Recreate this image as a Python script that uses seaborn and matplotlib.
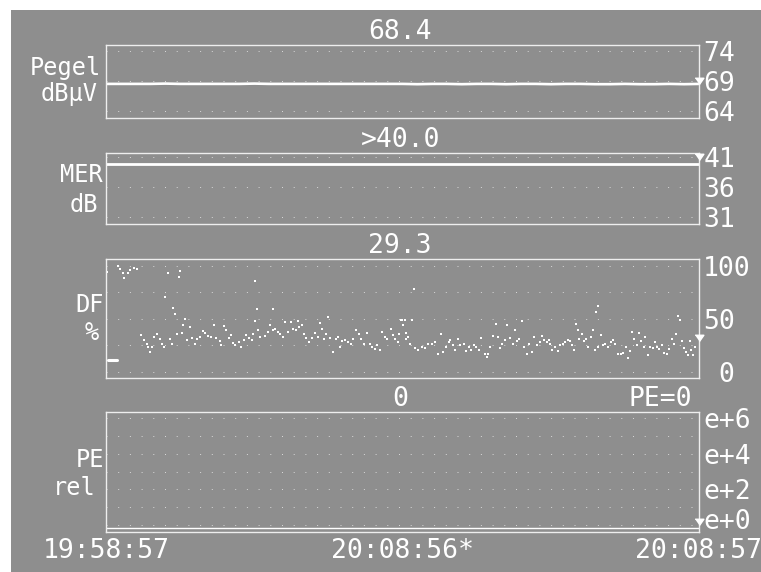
import matplotlib
matplotlib.use("Agg")
import matplotlib.pyplot as plt
import seaborn as sns
from matplotlib.patches import Rectangle

time_ticks = [0, 300, 600]
time_labels = ["19:58:57", "20:08:56*", "20:08:57"]

pegel_t = [0, 15, 30, 45, 60, 75, 90, 105, 120, 135, 150, 165, 180, 195, 210,
           225, 240, 255, 270, 285, 300, 315, 330, 345, 360, 375, 390, 405,
           420, 435, 450, 465, 480, 495, 510, 525, 540, 555, 570, 585, 600]
pegel = [68.5, 68.5, 68.5, 68.5, 68.55, 68.5, 68.5, 68.5, 68.5, 68.5, 68.55,
         68.5, 68.5, 68.5, 68.5, 68.5, 68.5, 68.5, 68.5, 68.5, 68.5, 68.45,
         68.5, 68.5, 68.45, 68.5, 68.5, 68.45, 68.5, 68.5, 68.45, 68.5, 68.5,
         68.45, 68.45, 68.5, 68.45, 68.45, 68.5, 68.45, 68.5]

mer_t = [0, 600]
mer = [39.8, 39.8]

df_t = [1, 12, 14, 17, 18, 22, 24, 28, 31, 63, 75, 74, 60, 68, 70, 80, 78, 85,
        77, 72, 35, 38, 41, 43, 45, 47, 49, 52, 55, 57, 59, 65, 67, 82, 87, 90,
        92, 95, 98, 100, 103, 106, 109, 111, 115, 116, 119, 121, 124, 126, 129,
        131, 135, 137, 140, 142, 145, 148,
        151, 153, 169, 151, 149, 154, 156, 161, 164, 166, 169, 171, 174, 176,
        179, 181, 184, 187, 189, 192, 194, 195, 198, 200, 202, 205, 208, 211,
        214, 217, 219, 221, 223, 225, 227, 230, 233, 235, 237, 239, 242, 245,
        248, 250, 253, 256, 258, 261, 264, 267, 269, 272, 274, 277, 279, 282,
        284, 288, 290, 292, 295, 296, 298,
        312, 299, 303, 310, 301, 304, 306, 304, 308, 313, 316, 320, 323, 326,
        330, 333, 336, 339, 341, 344, 347, 348, 351, 353, 356, 358, 362, 364,
        367, 369, 372, 374, 377, 379, 383, 385, 387, 389, 392, 395, 397, 399,
        401, 404, 406, 409, 412, 414, 416, 418, 421, 423, 426, 428, 431, 433,
        436, 439, 441, 443, 446, 448,
        498, 496, 449, 451, 454, 457, 459, 462, 464, 467, 469, 472, 474, 476,
        478, 479, 482, 484, 486, 488, 491, 493, 495, 498, 501, 503, 505, 508,
        511, 513, 515, 518, 521, 523, 526, 528, 530, 532, 534, 537, 539, 541,
        544, 545, 548, 550, 553, 555, 558, 560, 563, 565, 568, 570, 573, 575,
        577, 579, 581, 583, 585, 587, 589, 591, 592, 594, 596]
df_v = [94, 100, 97, 93, 89, 93, 96, 98, 97, 93, 95, 90, 71, 60, 55, 50, 44, 42,
        37, 36, 35, 30, 26, 24, 19, 24, 33, 36, 31, 26, 24, 31, 26, 30, 32, 26,
        31, 33, 39, 37, 34, 33, 44, 32, 29, 25, 43, 40, 32, 35, 27,
        25, 28, 24, 30, 35, 32, 30,
        86, 59, 59, 48, 36, 40, 33, 34, 38, 44, 40, 41, 38, 36,
        33, 47, 38, 47, 41, 40, 48, 42, 44, 36, 32, 28, 32, 37,
        33, 46, 41, 31, 36, 52, 32, 19, 31, 33, 24, 29, 30, 28,
        26, 31, 40, 36, 31, 26, 37, 26, 24, 22, 25, 21, 38, 33,
        31, 41, 35, 31, 28, 36, 49,
        78, 49, 49, 49, 44, 37, 33, 31, 26, 23, 21, 24, 23, 26,
        26, 28, 17, 36, 19, 24, 28, 30, 25, 21, 31, 25, 26, 20,
        24, 21, 25, 24, 21, 32, 17, 14, 17, 24, 34, 45, 33, 23,
        26, 30, 44, 32, 26, 40, 29, 31, 48, 24, 17, 26, 19, 33,
        25, 28, 34, 30, 28, 30,
        62, 57, 26, 21, 24, 20, 25, 26, 28, 30, 29, 25, 21, 45,
        40, 31, 36, 29, 31, 24, 33, 40, 21, 24, 35, 25, 26, 24,
        28, 30, 26, 17, 17, 18, 24, 13, 20, 38, 31, 25, 37, 29,
        24, 33, 16, 24, 23, 28, 24, 22, 25, 18, 17, 22, 31, 26,
        36, 53, 49, 29, 23, 19, 16, 29, 21, 16, 24]
df_bar_t = [2, 11]
df_bar_v = [11, 11]

pe_t = [0, 600]
pe = [-0.17, -0.17]

current = [68.4, 40.6, 29.3, 0.0]
headers = ["68.4", ">40.0", "29.3", "0"]

BG = "#8e8e8e"
FG = "white"
FRAME = "#eeeeee"
DOT = "#d6d6d6"
W, H = 761, 572

sns.set_style("white")
plt.rcParams["font.family"] = ["DejaVu Sans Mono", "DejaVu Sans"]

fig = plt.figure(figsize=(W / 100, H / 100), dpi=100, facecolor="white")
fig.patches.append(Rectangle((11 / W, 0), 1, (H - 10) / H, transform=fig.transFigure,
                             facecolor=BG, edgecolor="none", zorder=-10))

# (haut, bas) des quatre panneaux, en pixels
boxes = [(45, 118), (153, 224), (259, 378), (412, 532)]
ylims = [(62.8, 75.0), (29.8, 41.7), (-5.7, 106.6), (-0.39, 6.34)]
yticks = [[64, 69, 74], [31, 36, 41], [0, 25, 50, 75, 100], [0, 1, 2, 3, 4, 5, 6]]
# e+0 est posé à part (voir plus bas), sinon il chevauche l'heure de fin
ylabels = [["64", "69", "74"], ["31", "36", "41"], [" 0", "", "50", "", "100"],
           ["", "", "e+2", "", "e+4", "", "e+6"]]

axes = []
for (top, bot), yl, yt, ytl in zip(boxes, ylims, yticks, ylabels):
    ax = fig.add_axes([106 / W, 1 - bot / H, 593 / W, (bot - top) / H])
    ax.set_facecolor(BG)
    for s in ax.spines.values():
        s.set_color(FRAME)
        s.set_linewidth(1.0)
    ax.set_xlim(0, 600)
    ax.set_ylim(*yl)
    ax.set_yticks(yt)
    ax.set_yticklabels(ytl)
    ax.yaxis.tick_right()
    ax.tick_params(axis="y", length=0, pad=3, labelsize=19, labelcolor=FG)
    ax.tick_params(axis="x", length=0, labelbottom=False)
    ax.grid(axis="y", color=DOT, linestyle=(0, (1, 10.7)), linewidth=0.72)
    axes.append(ax)

tri = [(-0.7, 1), (0.7, 1), (0, 0)]

sns.lineplot(x=pegel_t, y=pegel, ax=axes[0], color=FG, lw=1.9, estimator=None)
sns.lineplot(x=mer_t, y=mer, ax=axes[1], color=FG, lw=2.0, estimator=None)
sns.scatterplot(x=df_t, y=df_v, ax=axes[2], color=FG, marker="s", s=4, linewidth=0)
sns.lineplot(x=df_bar_t, y=df_bar_v, ax=axes[2], color=FG, lw=2.2, estimator=None)
sns.lineplot(x=pe_t, y=pe, ax=axes[3], color=FG, lw=1.0, estimator=None)

for ax, val, txt in zip(axes, current, headers):
    ax.plot([600], [val], marker=tri, ms=9, color=FG, clip_on=False, zorder=5)
    ax.annotate(txt, xy=(0.496, 1), xycoords="axes fraction", xytext=(0, 4),
                textcoords="offset points", ha="center", va="baseline",
                fontsize=19, color=FG)
    ax.set_xlabel("")
    ax.set_ylabel("")

axes[3].annotate("PE=0", xy=(0.988, 1), xycoords="axes fraction", xytext=(0, 4),
                 textcoords="offset points", ha="right", va="baseline",
                 fontsize=19, color=FG)
axes[3].annotate("e+0", xy=(1, 0), xycoords=("axes fraction", "data"),
                 xytext=(3, 2.5), textcoords="offset points", ha="left",
                 va="center", fontsize=19, color=FG, annotation_clip=False)

axes[3].set_xticks(time_ticks)
axes[3].set_xticklabels(time_labels)
axes[3].tick_params(axis="x", labelbottom=True, labelsize=19, labelcolor=FG, pad=4)

# étiquettes de gauche (x droite, ligne de base) en pixels
left_labels = [("Pegel", 101, 75), ("dBµV", 98, 101), ("MER", 103, 182),
               ("dB", 98, 212), ("DF", 104, 312), ("%", 99, 340),
               ("PE", 104, 467), ("rel", 96, 495)]
for txt, xr, yb in left_labels:
    fig.text(xr / W, 1 - yb / H, txt, ha="right", va="baseline",
             fontsize=17, color=FG)

fig.savefig("out.png", dpi=100, facecolor=fig.get_facecolor())
